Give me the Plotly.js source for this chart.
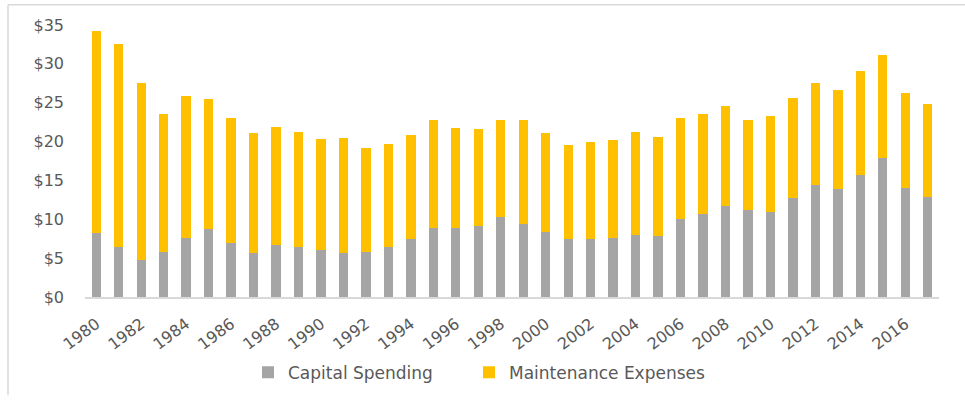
<!DOCTYPE html>
<html>
<head>
<meta charset="utf-8">
<script src="https://cdn.plot.ly/plotly-3.0.1.min.js"></script>
<style>html,body{margin:0;padding:0;background:#fff;}#chart{width:965px;height:403px;}</style>
</head>
<body>
<div id="chart"></div>
<script>
// Data (billions of dollars)
const years = [1980,1981,1982,1983,1984,1985,1986,1987,1988,1989,
               1990,1991,1992,1993,1994,1995,1996,1997,1998,1999,
               2000,2001,2002,2003,2004,2005,2006,2007,2008,2009,
               2010,2011,2012,2013,2014,2015,2016,2017];
const capitalSpending = [8.2,6.4,4.7,5.8,7.6,8.7,6.9,5.6,6.7,6.4,
                         6.1,5.6,5.8,6.4,7.5,8.9,8.9,9.1,10.3,9.4,
                         8.4,7.4,7.5,7.6,8.0,7.8,10.1,10.7,11.7,11.2,
                         10.9,12.7,14.4,13.9,15.7,17.9,14.0,12.9];
const totalSpending = [34.2,32.5,27.5,23.5,25.9,25.5,23.0,21.1,21.9,21.2,
                       20.3,20.4,19.2,19.75,20.9,22.8,21.8,21.6,22.8,22.8,
                       21.1,19.6,20.0,20.2,21.2,20.6,23.0,23.5,24.6,22.8,
                       23.25,25.65,27.5,26.6,29.1,31.1,26.2,24.8];
const maintenanceExpenses = totalSpending.map((t, i) => +(t - capitalSpending[i]).toFixed(2));
const tickYears = [1980,1982,1984,1986,1988,1990,1992,1994,1996,1998,
                   2000,2002,2004,2006,2008,2010,2012,2014,2016];
const seriesNames = ['Capital Spending', 'Maintenance Expenses'];

const W = 965, H = 403;
const M = {l: 85, r: 26, t: 25, b: 101};
const pw = W - M.l - M.r, ph = H - M.t - M.b;
const px = x => (x - M.l) / pw;          // pixel -> paper x
const py = y => (H - M.b - y) / ph;      // pixel -> paper y

const textColor = '#595959';
const font = 'DejaVu Sans, sans-serif';

const traces = [
  {type: 'bar', name: seriesNames[0], x: years, y: capitalSpending, legend: 'legend',
   marker: {color: '#A5A5A5'}, hoverinfo: 'x+y+name'},
  {type: 'bar', name: seriesNames[1], x: years, y: maintenanceExpenses, legend: 'legend2',
   marker: {color: '#FFC000'}, hoverinfo: 'x+y+name'}
];

const legendBase = {
  orientation: 'h',
  xanchor: 'left',
  yanchor: 'middle',
  y: py(379),
  font: {size: 17, color: textColor},
  bgcolor: 'rgba(0,0,0,0)',
  borderwidth: 0
};

const layout = {
  width: W, height: H,
  margin: M,
  barmode: 'stack',
  bargap: 0.585,
  paper_bgcolor: '#ffffff',
  plot_bgcolor: '#ffffff',
  font: {family: font, color: textColor, size: 16},
  xaxis: {
    type: 'linear',
    range: [1979.5, 2017.5],
    tickvals: tickYears,
    ticktext: tickYears.map(String),
    tickangle: -37,
    tickfont: {size: 16, color: textColor},
    showgrid: false,
    zeroline: false,
    showline: true,
    linecolor: '#D9D9D9',
    linewidth: 1.5,
    ticks: '',
    ticklabelstandoff: 10,
    fixedrange: true
  },
  yaxis: {
    range: [0, 35],
    dtick: 5,
    tickprefix: '$',
    tickfont: {size: 16, color: textColor},
    showgrid: false,
    zeroline: false,
    showline: false,
    ticks: '',
    ticklabelstandoff: 20,
    fixedrange: true
  },
  showlegend: true,
  legend: Object.assign({}, legendBase, {x: px(248)}),
  legend2: Object.assign({}, legendBase, {x: px(469)}),
  shapes: [
    {type: 'line', xref: 'paper', yref: 'paper', x0: px(8), x1: px(965), y0: py(4.5), y1: py(4.5),
     line: {color: '#D9D9D9', width: 1.5}},
    {type: 'line', xref: 'paper', yref: 'paper', x0: px(8), x1: px(8), y0: py(4.5), y1: py(402),
     line: {color: '#D9D9D9', width: 1.5}}
  ]
};

Plotly.newPlot('chart', traces, layout, {displayModeBar: false, staticPlot: true});
</script>
</body>
</html>
